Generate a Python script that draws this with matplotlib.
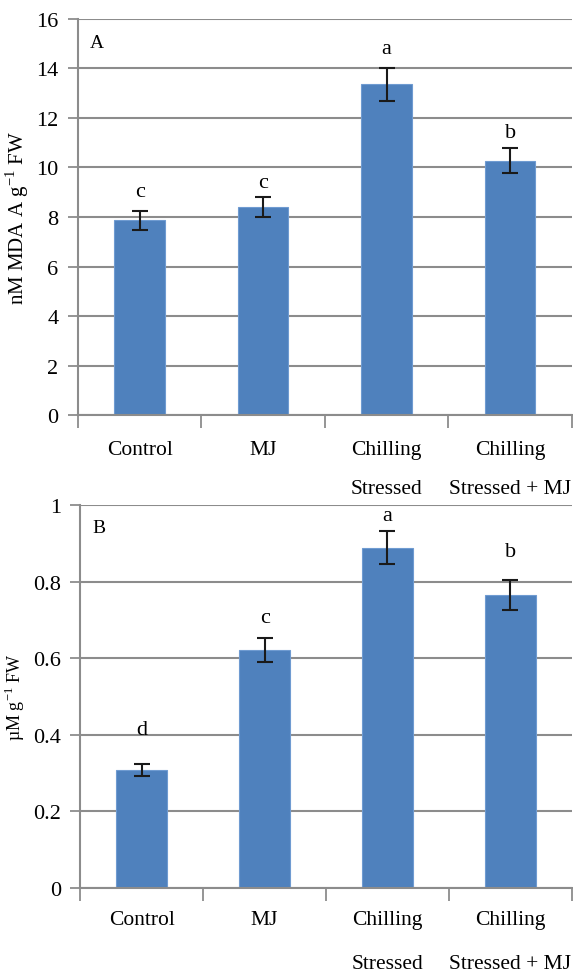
import numpy as np
import matplotlib.pyplot as plt
from matplotlib.ticker import FuncFormatter

plt.rc('font', family='Liberation Serif', size=16)

groups = ['Control', 'MJ', 'Chilling\nStressed', 'Chilling\nStressed + MJ']

# MDA content (panel A)
mda = [7.86, 8.40, 13.36, 10.28]
mda_err = [0.40, 0.42, 0.66, 0.52]
mda_sig = ['c', 'c', 'a', 'b']

# H2O2 content (panel B)
h2o2 = [0.308, 0.622, 0.889, 0.766]
h2o2_err = [0.016, 0.031, 0.044, 0.039]
h2o2_sig = ['d', 'c', 'a', 'b']

bar_col = '#4f81bd'
grid_col = '#8c8c8c'

fig = plt.figure(figsize=(5.73, 9.78), dpi=100)
axA = fig.add_axes([0.136, 0.5746, 0.862, 0.405])
axB = fig.add_axes([0.140, 0.0910, 0.858, 0.3916])


def panel(ax, vals, errs, sig, ymax, ystep, ylabel, ylab_size, tag,
          lab_off, sig_pad):
    x = np.arange(len(vals))
    ax.set_axisbelow(True)
    ax.bar(x, vals, width=0.41, color=bar_col, edgecolor='#6f9bd1', lw=0.8)
    ax.errorbar(x, vals, yerr=errs, fmt='none', ecolor='#1a1a1a',
                elinewidth=1.5, capsize=5.5, capthick=1.5)
    # significance letters above the error bars
    for i in x:
        ax.annotate(sig[i], xy=(i, vals[i] + errs[i]), xytext=(0, sig_pad[i]),
                    textcoords='offset points', ha='center', va='center',
                    fontsize=16)
    ax.set_xlim(-0.5, len(vals) - 0.5)
    ax.set_ylim(0, ymax)
    ax.set_yticks(np.arange(0, ymax + ystep / 2, ystep))
    ax.yaxis.set_major_formatter(FuncFormatter(lambda v, p: '%g' % round(v, 2)))
    ax.yaxis.grid(True, color=grid_col, lw=1.5)
    ax.tick_params(axis='y', direction='out', length=7, width=1.3,
                   color=grid_col, pad=7, labelsize=16)
    # category boundaries as ticks, names written below
    ax.set_xticks(np.arange(-0.5, len(vals)))
    ax.set_xticklabels([])
    ax.tick_params(axis='x', direction='out', length=9, width=1.3,
                   color=grid_col)
    for i, g in enumerate(groups):
        for k, line in enumerate(g.split('\n')):
            ax.annotate(line, xy=(i, 0), xycoords=('data', 'axes fraction'),
                        xytext=(0, -lab_off[k]), textcoords='offset points',
                        ha='center', va='center', fontsize=15.5,
                        annotation_clip=False)
    for s in ['top', 'right']:
        ax.spines[s].set_visible(False)
    for s in ['left', 'bottom']:
        ax.spines[s].set_color(grid_col)
        ax.spines[s].set_linewidth(1.5)
    ax.set_ylabel(ylabel, fontsize=ylab_size, labelpad=4)
    ax.text(0.025, 0.94, tag, transform=ax.transAxes, fontsize=14,
            ha='left', va='center')


panel(axA, mda, mda_err, mda_sig, 16, 2, r'nM MDA A g$^{\mathregular{-1}}$ FW',
      15, 'A', [25, 53], [14, 10, 14, 11])
panel(axB, h2o2, h2o2_err, h2o2_sig, 1.0, 0.2, r'µM g$^{\mathregular{-1}}$ FW',
      13, 'B', [23, 54], [25, 15, 11, 20])

fig.savefig('out.png', dpi=100)
